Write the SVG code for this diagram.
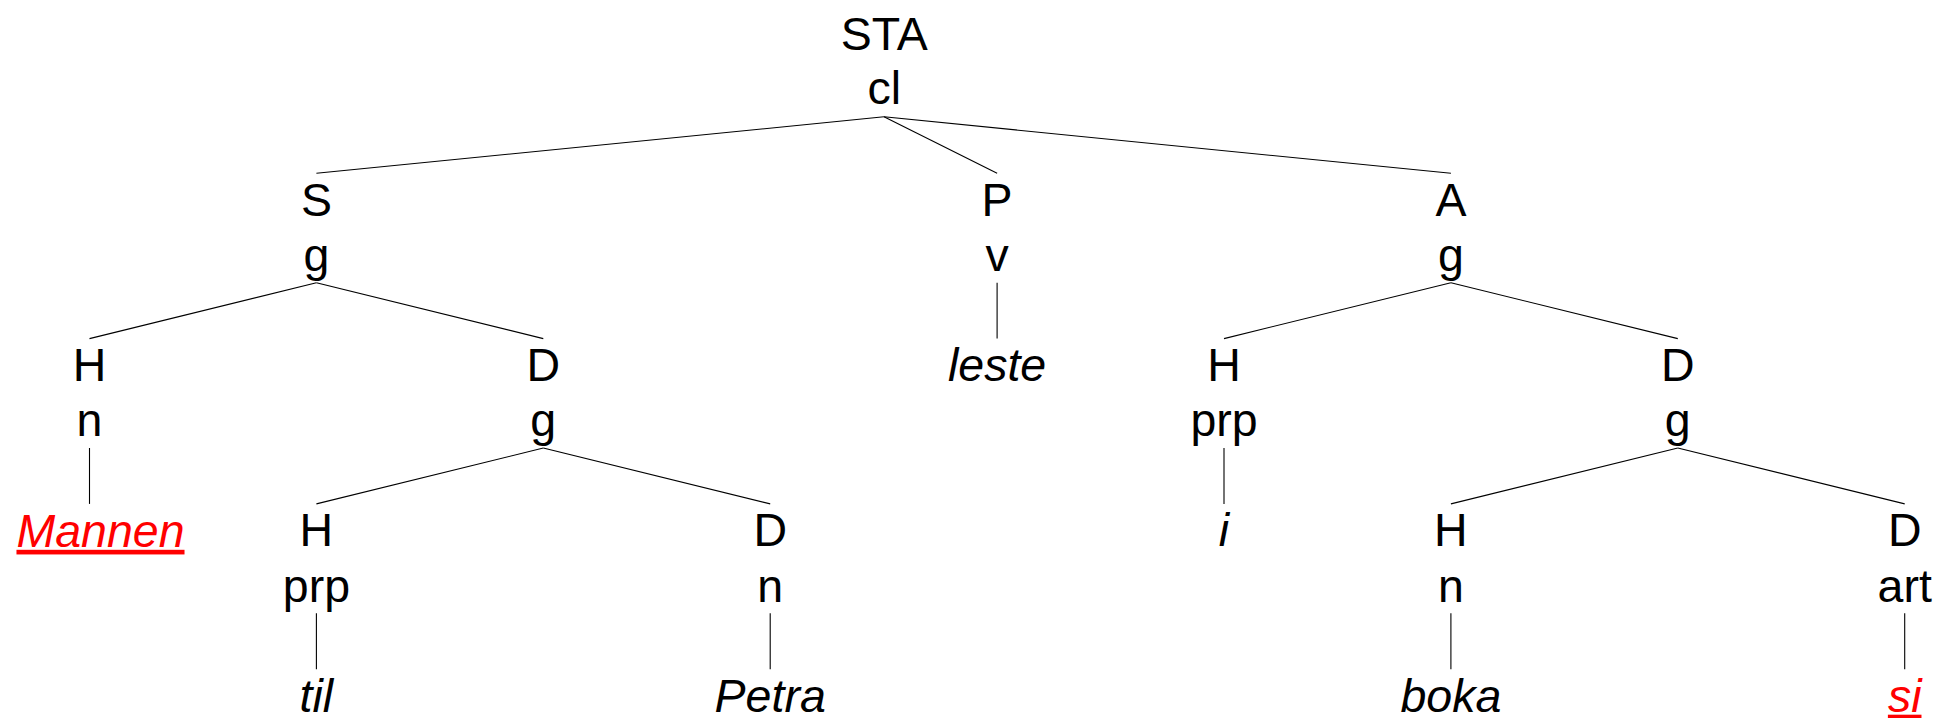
<svg xmlns="http://www.w3.org/2000/svg" width="1939" height="718" viewBox="0 0 1939 718">
<style>
text{font-family:"Liberation Sans",Arial,sans-serif;font-size:46.5px;text-anchor:middle;fill:#000}
.w{font-style:italic}
.r{fill:#ff0000;text-decoration:underline}
.e line{stroke:#000;stroke-width:1.1}
</style>
<rect width="1939" height="718" fill="#fff"/>
<g id="connectors" class="e">
<line x1="884" y1="116.8" x2="316.4" y2="173.3"/>
<line x1="884" y1="116.8" x2="997.1" y2="173.3"/>
<line x1="884" y1="116.8" x2="1450.9" y2="173.3"/>
<line x1="316.4" y1="282.7" x2="89.5" y2="338.6"/>
<line x1="316.4" y1="282.7" x2="543.3" y2="338.6"/>
<line x1="997.1" y1="282.7" x2="997.1" y2="338.6"/>
<line x1="1450.9" y1="282.7" x2="1224" y2="338.6"/>
<line x1="1450.9" y1="282.7" x2="1677.8" y2="338.6"/>
<line x1="89.5" y1="448" x2="89.5" y2="503.9"/>
<line x1="543.3" y1="448" x2="316.4" y2="503.9"/>
<line x1="543.3" y1="448" x2="770.2" y2="503.9"/>
<line x1="1224" y1="448" x2="1224" y2="503.9"/>
<line x1="1677.8" y1="448" x2="1450.9" y2="503.9"/>
<line x1="1677.8" y1="448" x2="1904.7" y2="503.9"/>
<line x1="316.4" y1="613.3" x2="316.4" y2="669.2"/>
<line x1="770.2" y1="613.3" x2="770.2" y2="669.2"/>
<line x1="1450.9" y1="613.3" x2="1450.9" y2="669.2"/>
<line x1="1904.7" y1="613.3" x2="1904.7" y2="669.2"/>
</g>
<g id="n-sta"><text x="884.3" y="49.5">STA</text><text x="884.3" y="104">cl</text></g>
<g id="n-s"><text x="316.4" y="215.8">S</text><text x="316.4" y="270.9">g</text></g>
<g id="n-p"><text x="997.1" y="215.8">P</text><text x="997.1" y="270.9">v</text></g>
<g id="n-a"><text x="1450.9" y="215.8">A</text><text x="1450.9" y="270.9">g</text></g>
<g id="n-s-h"><text x="89.5" y="381.1">H</text><text x="89.5" y="436.2">n</text></g>
<g id="n-s-d"><text x="543.3" y="381.1">D</text><text x="543.3" y="436.2">g</text></g>
<g id="w-leste"><text class="w" x="997.1" y="381.1">leste</text></g>
<g id="n-a-h"><text x="1224" y="381.1">H</text><text x="1224" y="436.2">prp</text></g>
<g id="n-a-d"><text x="1677.8" y="381.1">D</text><text x="1677.8" y="436.2">g</text></g>
<g id="w-mannen"><text class="w r" x="100.5" y="546.8">Mannen</text></g>
<g id="n-sd-h"><text x="316.4" y="546.4">H</text><text x="316.4" y="601.5">prp</text></g>
<g id="n-sd-d"><text x="770.2" y="546.4">D</text><text x="770.2" y="601.5">n</text></g>
<g id="w-i"><text class="w" x="1224" y="546.4">i</text></g>
<g id="n-ad-h"><text x="1450.9" y="546.4">H</text><text x="1450.9" y="601.5">n</text></g>
<g id="n-ad-d"><text x="1904.7" y="546.4">D</text><text x="1904.7" y="601.5">art</text></g>
<g id="w-til"><text class="w" x="316.4" y="711.7">til</text></g>
<g id="w-petra"><text class="w" x="770.2" y="711.7">Petra</text></g>
<g id="w-boka"><text class="w" x="1450.9" y="711.7">boka</text></g>
<g id="w-si"><text class="w r" x="1904.7" y="711.7">si</text></g>
</svg>
